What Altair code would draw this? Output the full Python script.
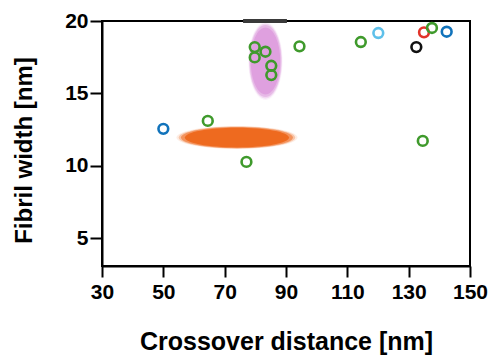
import altair as alt
import pandas as pd

# ---- data ----
crossover = [50, 64.5, 77.1, 79.8, 79.8, 83.3, 85.2, 85.2, 94.4, 114.4, 120.1, 132.5, 135.0, 137.6, 142.4, 134.6]
width_nm = [12.56, 13.11, 10.28, 18.2, 17.49, 17.88, 16.91, 16.27, 18.25, 18.55, 19.17, 18.2, 19.22, 19.52, 19.26, 11.73]
group = ["blue", "green", "green", "green", "green", "green", "green", "green", "green", "green",
         "lightblue", "black", "red", "green", "blue", "green"]

group_names = ["blue", "green", "lightblue", "black", "red"]
group_colors = ["#1173bb", "#3f9a2c", "#5ec0ea", "#111111", "#e2342a"]

# cluster blobs (centre positions)
blob_name = ["orange", "pink"]
blob_x = [74.0, 83.3]
blob_y = [11.96, 17.24]

# bar at the top of the frame
bar_x = [76.0]
bar_x2 = [90.3]
bar_y = [20.0]

df = pd.DataFrame({"x": crossover, "y": width_nm, "g": group})
blobs = pd.DataFrame({"name": blob_name, "x": blob_x, "y": blob_y})
bar = pd.DataFrame({"x": bar_x, "x2": bar_x2, "y": bar_y})

xscale = alt.Scale(domain=[30, 150], nice=False, zero=False)
yscale = alt.Scale(domain=[3.1, 20], nice=False, zero=False)

FONT = "Liberation Sans"


def ellipse_path(rx, ry):
    k = 0.5523
    return (f"M {-rx} 0 C {-rx} {-k*ry} {-k*rx} {-ry} 0 {-ry} "
            f"C {k*rx} {-ry} {rx} {-k*ry} {rx} 0 "
            f"C {rx} {k*ry} {k*rx} {ry} 0 {ry} "
            f"C {-k*rx} {ry} {-rx} {k*ry} {-rx} 0 Z")


xenc = alt.X("x:Q", scale=xscale,
             axis=alt.Axis(values=[30, 50, 70, 90, 110, 130, 150], title="Crossover distance [nm]",
                           grid=False, domainColor="black", domainWidth=2, tickColor="black",
                           tickWidth=2, tickSize=11, labelPadding=4, labelFontSize=21,
                           labelFont=FONT, labelFontWeight="bold", labelColor="black",
                           titleFont=FONT, titleFontSize=25, titleFontWeight="bold", titleColor="black",
                           titleBaseline="alphabetic", titleY=83, labelFlush=False))
yenc = alt.Y("y:Q", scale=yscale,
             axis=alt.Axis(values=[5, 10, 15, 20], title="Fibril width [nm]",
                           grid=False, domainColor="black", domainWidth=2, tickColor="black",
                           tickWidth=2, tickSize=12, labelPadding=2, labelFontSize=21,
                           labelFont=FONT, labelFontWeight="bold", labelColor="black",
                           titleFont=FONT, titleFontSize=24, titleFontWeight="bold", titleColor="black",
                           titleBaseline="alphabetic", titleX=-71, titleY=129, labelFlush=False))

layers = []
blob_style = {
    "orange": dict(color="#ee6a1f", rx=1.0, ry=0.19, size=112 ** 2),
    "pink": dict(color="#dfa0df", rx=0.44, ry=1.0, size=72 ** 2),
}
for name, st in blob_style.items():
    sub = blobs[blobs["name"] == name]
    for scale, op in [(1.08, 0.12), (1.04, 0.3), (1.0, 0.55), (0.93, 1.0)]:
        layers.append(
            alt.Chart(sub).mark_point(
                shape=ellipse_path(st["rx"], st["ry"]), filled=True, color=st["color"],
                opacity=op, size=st["size"] * scale * scale, strokeWidth=0
            ).encode(x=alt.X("x:Q", scale=xscale), y=alt.Y("y:Q", scale=yscale))
        )

bar_layer = alt.Chart(bar).mark_rule(color="#3a3a3a", strokeWidth=4).encode(
    x=alt.X("x:Q", scale=xscale), x2="x2:Q", y=alt.Y("y:Q", scale=yscale)
)

points = alt.Chart(df).mark_point(filled=False, size=95, strokeWidth=2.6, opacity=1).encode(
    x=xenc, y=yenc,
    color=alt.Color("g:N", scale=alt.Scale(domain=group_names, range=group_colors), legend=None),
)

chart = alt.layer(*layers, bar_layer, points).properties(
    width=368, height=245,
    autosize=alt.AutoSizeParams(type="none"),
    padding={"left": 102, "top": 21, "right": 22, "bottom": 89},
    background="white",
).configure_view(stroke="black", strokeWidth=2)

chart.save("out.html", embed_options={"renderer": "svg", "actions": False})
